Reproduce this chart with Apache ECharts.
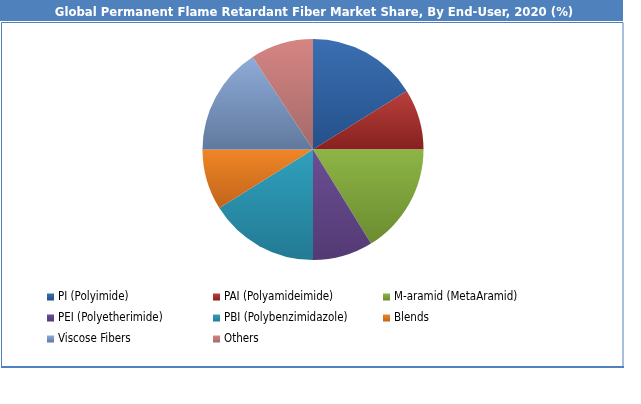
<!DOCTYPE html>
<html>
<head>
<meta charset="utf-8">
<script src="https://cdn.jsdelivr.net/npm/echarts@6/dist/echarts.min.js"></script>
<style>html,body{margin:0;padding:0;background:#fff;}#c{width:641px;height:404px;}</style>
</head>
<body>
<div id="c"></div>
<script>
var categories = ['PI (Polyimide)', 'PAI (Polyamideimide)', 'M-aramid (MetaAramid)', 'PEI (Polyetherimide)', 'PBI (Polybenzimidazole)', 'Blends', 'Viscose Fibers', 'Others'];
var shares = [16.1, 8.9, 16.2, 8.8, 16.1, 8.9, 15.8, 9.2];
var colorTop = ['#3B6FB2', '#B8403C', '#8DB545', '#6B4E94', '#2FA0BD', '#F08526', '#8EABD8', '#D58583'];
var colorBottom = ['#24508A', '#87211F', '#6B8C31', '#533A73', '#237A93', '#C1651B', '#61799E', '#A46A69'];
var legendCols = [
  ['PI (Polyimide)', 'PEI (Polyetherimide)', 'Viscose Fibers'],
  ['PAI (Polyamideimide)', 'PBI (Polybenzimidazole)', 'Others'],
  ['M-aramid (MetaAramid)', 'Blends']
];
var titleText = 'Global Permanent Flame Retardant Fiber Market Share, By End-User, 2020 (%)';

var chart = echarts.init(document.getElementById('c'), null, {renderer: 'canvas'});
var fontFam = "'Liberation Sans Narrow', 'DejaVu Sans Condensed', 'Liberation Sans', sans-serif";
var data = categories.map(function (n, i) {
  return {
    name: n, value: shares[i],
    itemStyle: {color: new echarts.graphic.LinearGradient(0, 0, 0, 1, [
      {offset: 0, color: colorTop[i]}, {offset: 1, color: colorBottom[i]}])}
  };
});
var legendLefts = [42, 208, 378];
var legends = legendCols.map(function (col, i) {
  return {
    data: col, orient: 'vertical', left: legendLefts[i], top: 285,
    itemWidth: 7, itemHeight: 7, itemGap: 7, icon: 'rect',
    selectedMode: false,
    textStyle: {fontFamily: fontFam, fontSize: 11.5, color: '#000', lineHeight: 14, padding: [0, 0, 0, -1]}
  };
});
chart.setOption({
  animation: false,
  title: {
    text: titleText, left: 309, top: 1, textAlign: 'center',
    textStyle: {color: '#fff', fontFamily: fontFam, fontWeight: 'bold', fontSize: 13}
  },
  legend: legends,
  graphic: [
    {type: 'rect', z: -10, shape: {x: 0, y: 0, width: 623, height: 21}, style: {fill: '#4F81BD'}},
    {type: 'rect', z: -10, shape: {x: 1.5, y: 22.5, width: 621.5, height: 344}, style: {fill: 'none', stroke: '#4F81BD', lineWidth: 1}},
    {type: 'line', z: -10, shape: {x1: 1, y1: 367, x2: 624, y2: 367}, style: {stroke: '#4F81BD', lineWidth: 2}}
  ],
  series: [{
    type: 'pie', center: [313, 149.5], radius: 110.5, startAngle: 90, clockwise: true,
    label: {show: false}, labelLine: {show: false},
    emphasis: {disabled: true},
    itemStyle: {borderWidth: 0},
    data: data
  }]
});
</script>
</body>
</html>
